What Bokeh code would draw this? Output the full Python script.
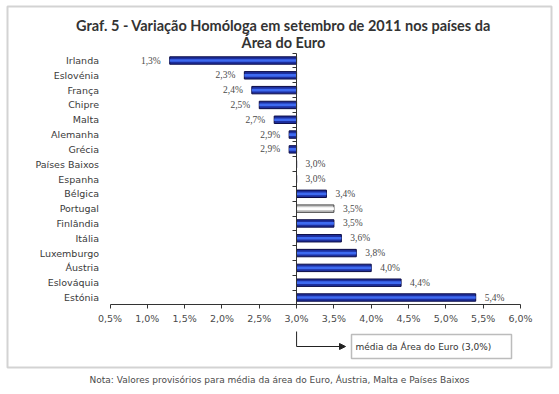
from bokeh.plotting import figure
from bokeh.models import (Range1d, FixedTicker, LinearAxis, Label, Arrow, NormalHead,
                          ColumnDataSource, BoxAnnotation)
from bokeh.embed import file_html
from bokeh.resources import INLINE

CATEGORIES = ["Irlanda", "Eslovénia", "França", "Chipre", "Malta", "Alemanha",
              "Grécia", "Países Baixos", "Espanha", "Bélgica", "Portugal",
              "Finlândia", "Itália", "Luxemburgo", "Áustria", "Eslováquia", "Estónia"]
VALUES = [1.3, 2.3, 2.4, 2.5, 2.7, 2.9, 2.9, 3.0, 3.0, 3.4, 3.5, 3.5, 3.6, 3.8, 4.0, 4.4, 5.4]
HIGHLIGHT = "Portugal"
BASELINE = 3.0
X_TICKS = [0.5, 1.0, 1.5, 2.0, 2.5, 3.0, 3.5, 4.0, 4.5, 5.0, 5.5, 6.0]
X_TICK_LABELS = ["0,5%", "1,0%", "1,5%", "2,0%", "2,5%", "3,0%", "3,5%", "4,0%",
                 "4,5%", "5,0%", "5,5%", "6,0%"]
TITLE_1 = "Graf. 5 - Variação Homóloga em setembro de 2011 nos países da"
TITLE_2 = "Área do Euro"
NOTE_TEXT = "média da Área  do Euro (3,0%)"
FOOTNOTE = "Nota: Valores provisórios para média da área do Euro, Áustria, Malta e Países Baixos"

FONT = "DejaVu Sans"
W, H = 559, 394
n = len(CATEGORIES)

# pixel layout of the chart area (canvas pixels)
X0_PX, X1_PX = 109.5, 520.0      # first / last x tick
Y0_PX, Y1_PX = 60.0, 297.0       # first / last category centre
px_x = (X1_PX - X0_PX) / (X_TICKS[-1] - X_TICKS[0])
px_y = (Y1_PX - Y0_PX) / (n - 1)


def xd(px):
    return X_TICKS[0] + (px - X0_PX) / px_x


def yd(py):
    return (py - Y0_PX) / px_y


idx = list(range(n))
cat_top, cat_bottom = -0.5, n - 0.5

p = figure(width=W, height=H, output_backend="svg", toolbar_location=None,
           x_range=Range1d(xd(0), xd(W)), y_range=Range1d(yd(H), yd(0)),
           min_border=0, x_axis_type=None, y_axis_type=None)
p.outline_line_color = None
p.grid.visible = False
p.background_fill_color = "white"
p.border_fill_color = "white"

# outer frame box
p.add_layout(BoxAnnotation(left=xd(7), right=xd(551), top=yd(6), bottom=yd(367),
                           fill_color=None, line_color="#6e6e6e", line_width=2))

# x axis
xa = LinearAxis(fixed_location=cat_bottom, bounds=(X_TICKS[0], X_TICKS[-1]))
xa.ticker = FixedTicker(ticks=X_TICKS)
xa.major_label_overrides = {t: l for t, l in zip(X_TICKS, X_TICK_LABELS)}
xa.minor_tick_line_color = None
xa.major_tick_in = 0
xa.major_tick_out = 4
xa.axis_line_color = "#333333"
xa.major_tick_line_color = "#333333"
xa.major_label_text_font = FONT
xa.major_label_text_font_size = "9.5px"
xa.major_label_text_color = "#4a4a4a"
xa.major_label_standoff = 4
p.add_layout(xa, "below")

# category labels
ya = LinearAxis(fixed_location=X_TICKS[0], bounds=(cat_top, cat_bottom))
ya.ticker = FixedTicker(ticks=idx)
ya.major_label_overrides = {i: c for i, c in zip(idx, CATEGORIES)}
ya.axis_line_color = None
ya.major_tick_line_color = None
ya.minor_tick_line_color = None
ya.major_tick_in = 0
ya.major_tick_out = 0
ya.major_label_standoff = 11
ya.major_label_text_font = FONT
ya.major_label_text_font_size = "9.5px"
ya.major_label_text_color = "#3a3a3a"
p.add_layout(ya, "left")

# vertical axis at the euro-area average (ticks between categories)
va = LinearAxis(fixed_location=BASELINE, bounds=(cat_top, cat_bottom))
bounds = [i - 0.5 for i in range(n + 1)]
va.ticker = FixedTicker(ticks=bounds)
va.major_label_text_color = None
va.major_label_text_font_size = "1px"
va.minor_tick_line_color = None
va.major_tick_in = 0
va.major_tick_out = 4
va.axis_line_color = "#333333"
va.major_tick_line_color = "#333333"
p.add_layout(va, "left")

# bars
outer_fill = ["#c8c8c8" if c == HIGHLIGHT else "#1d2f9e" for c in CATEGORIES]
inner_fill = ["#ffffff" if c == HIGHLIGHT else "#3e6af0" for c in CATEGORIES]
line_col = ["#444444" if c == HIGHLIGHT else "#0b0b45" for c in CATEGORIES]
src = ColumnDataSource(dict(y=idx, v=VALUES, outer=outer_fill, inner=inner_fill, lc=line_col,
                            base=[BASELINE] * n))
p.hbar(y="y", left="base", right="v", height=0.5, fill_color="outer",
       line_color="lc", line_width=1, source=src)
p.hbar(y="y", left="base", right="v", height=0.18, fill_color="inner",
       line_color=None, source=src)

# value labels
labels = [f"{v:.1f}".replace(".", ",") + "%" for v in VALUES]
align = ["right" if v < BASELINE else "left" for v in VALUES]
xoff = [-9 if v < BASELINE else 9 for v in VALUES]
lsrc = ColumnDataSource(dict(x=VALUES, y=idx, t=labels, a=align, o=xoff))
p.text(x="x", y="y", text="t", text_align="a", x_offset="o", text_baseline="middle",
       text_font=FONT, text_font_size="9.5px", text_color="#4a4a4a", source=lsrc)

# title
for txt, ypx in [(TITLE_1, 25), (TITLE_2, 42)]:
    p.add_layout(Label(x=xd(283), y=yd(ypx), text=txt, text_align="center",
                       text_baseline="middle", text_font="Lato", text_font_style="bold",
                       text_font_size="14.5px", text_color="#333333"))

# connector and note box
p.segment(x0=[BASELINE], x1=[BASELINE], y0=[yd(331)], y1=[yd(346)],
          line_color="#222222", line_width=1)
p.add_layout(Arrow(x_start=BASELINE, y_start=yd(346), x_end=xd(345), y_end=yd(346),
                   end=NormalHead(size=6, fill_color="#222222", line_color="#222222"),
                   line_color="#222222", line_width=1))
p.add_layout(BoxAnnotation(left=xd(351), right=xd(511), top=yd(334), bottom=yd(358),
                           fill_color="white", fill_alpha=1, line_color="#222222",
                           line_width=1.5))
p.add_layout(Label(x=xd(355), y=yd(346), text=NOTE_TEXT, text_align="left",
                   text_baseline="middle", text_font=FONT, text_font_size="9px",
                   text_color="#333333"))

# footnote
p.add_layout(Label(x=xd(279), y=yd(379), text=FOOTNOTE, text_align="center",
                   text_baseline="middle", text_font=FONT, text_font_size="9px",
                   text_color="#4a4a4a"))

open("out.html", "w").write(file_html(p, INLINE))
